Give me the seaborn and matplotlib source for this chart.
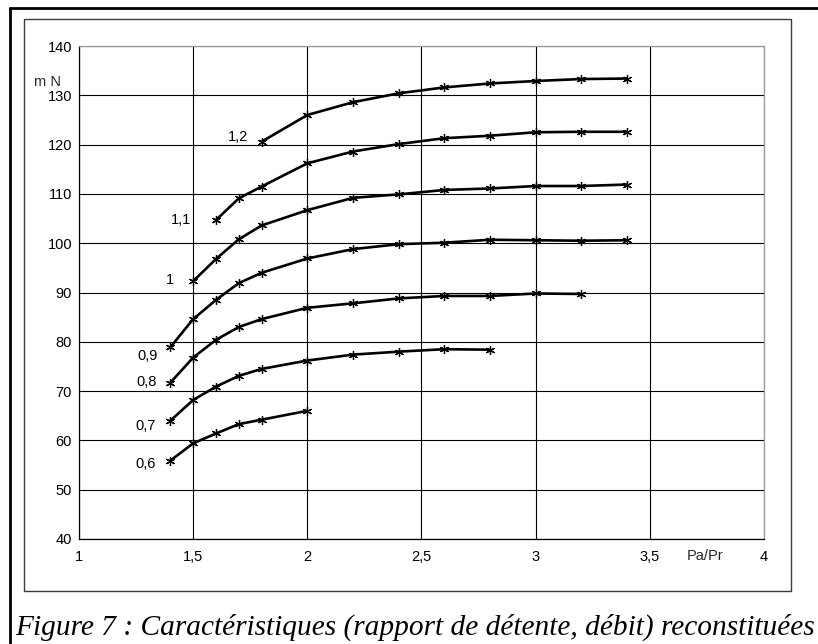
import matplotlib
matplotlib.use("Agg")
import matplotlib.pyplot as plt
from matplotlib.lines import Line2D
from matplotlib.patches import Rectangle
import seaborn as sns
import pandas as pd

# Expansion ratio Pa/Pr and mass flow (m N) for each characteristic
ratio_06 = [1.4, 1.5, 1.6, 1.7, 1.8, 2.0]
flow_06 = [55.9, 59.4, 61.4, 63.3, 64.2, 66.0]

ratio_07 = [1.4, 1.5, 1.6, 1.7, 1.8, 2.0, 2.2, 2.4, 2.6, 2.8]
flow_07 = [64.0, 68.2, 70.9, 73.1, 74.5, 76.2, 77.4, 78.0, 78.5, 78.4]

ratio_08 = [1.4, 1.5, 1.6, 1.7, 1.8, 2.0, 2.2, 2.4, 2.6, 2.8, 3.0, 3.2]
flow_08 = [71.7, 76.8, 80.4, 83.0, 84.6, 86.9, 87.8, 88.8, 89.3, 89.3, 89.8, 89.7]

ratio_09 = [1.4, 1.5, 1.6, 1.7, 1.8, 2.0, 2.2, 2.4, 2.6, 2.8, 3.0, 3.2, 3.4]
flow_09 = [78.9, 84.6, 88.5, 91.9, 94.0, 96.9, 98.8, 99.8, 100.1, 100.7, 100.6, 100.5, 100.6]

ratio_10 = [1.5, 1.6, 1.7, 1.8, 2.0, 2.2, 2.4, 2.6, 2.8, 3.0, 3.2, 3.4]
flow_10 = [92.3, 96.8, 100.8, 103.6, 106.7, 109.2, 109.9, 110.8, 111.1, 111.6, 111.6, 111.9]

ratio_11 = [1.6, 1.7, 1.8, 2.0, 2.2, 2.4, 2.6, 2.8, 3.0, 3.2, 3.4]
flow_11 = [104.7, 109.1, 111.5, 116.2, 118.6, 120.1, 121.3, 121.8, 122.5, 122.6, 122.6]

ratio_12 = [1.8, 2.0, 2.2, 2.4, 2.6, 2.8, 3.0, 3.2, 3.4]
flow_12 = [120.6, 126.0, 128.6, 130.4, 131.6, 132.4, 132.9, 133.3, 133.4]

curve_names = ["0,6", "0,7", "0,8", "0,9", "1", "1,1", "1,2"]
curve_ratios = [ratio_06, ratio_07, ratio_08, ratio_09, ratio_10, ratio_11, ratio_12]
curve_flows = [flow_06, flow_07, flow_08, flow_09, flow_10, flow_11, flow_12]

x_ticks = [1, 1.5, 2, 2.5, 3, 3.5, 4]
x_tick_labels = ["1", "1,5", "2", "2,5", "3", "3,5", "4"]
y_ticks = [40, 50, 60, 70, 80, 90, 100, 110, 120, 130, 140]
y_tick_labels = [str(v) for v in y_ticks]

caption = "Figure 7 : Caractéristiques (rapport de détente, débit) reconstituées"

# offsets (pixels) of each curve label's right/centre from the first point
label_offsets = {
    "0,6": (-15, -3), "0,7": (-15, -5), "0,8": (-14, 1), "0,9": (-13, -9),
    "1": (-19, 1), "1,1": (-25, 0), "1,2": (-14, 5),
}

frames = []
for name, xs, ys in zip(curve_names, curve_ratios, curve_flows):
    frames.append(pd.DataFrame({"ratio": xs, "flow": ys, "curve": name}))
data = pd.concat(frames, ignore_index=True)

sns.set_theme(style="white")
plt.rcParams["font.family"] = ["Liberation Sans", "DejaVu Sans"]

W, H = 818, 644
fig = plt.figure(figsize=(W / 100, H / 100), dpi=100)
fig.patch.set_facecolor("white")

ax_left, ax_right, ax_top, ax_bottom = 79, 764, 46, 539
ax = fig.add_axes([ax_left / W, 1 - ax_bottom / H,
                   (ax_right - ax_left) / W, (ax_bottom - ax_top) / H])
ax.set_facecolor("white")

for name in curve_names:
    sub = data[data["curve"] == name]
    sns.lineplot(data=sub, x="ratio", y="flow", ax=ax, color="black",
                 linewidth=1.9, marker=(6, 2, 0), markersize=6.5,
                 markeredgewidth=0.9, markeredgecolor="black",
                 sort=False, legend=False, zorder=3)

ax.set_xlim(1, 4)
ax.set_ylim(40, 140)
ax.set_xticks(x_ticks)
ax.set_xticklabels(x_tick_labels)
ax.set_yticks(y_ticks)
ax.set_yticklabels(y_tick_labels)
ax.set_xlabel("")
ax.set_ylabel("")
ax.grid(True, color="black", linewidth=0.8)
ax.tick_params(axis="both", direction="out", length=3, width=0.8,
               color="black", labelsize=10.5, labelcolor="black")
ax.tick_params(axis="x", pad=5)
ax.tick_params(axis="y", pad=2)
for side in ("left", "bottom"):
    ax.spines[side].set_color("black")
    ax.spines[side].set_linewidth(0.9)
for side in ("top", "right"):
    ax.spines[side].set_color("#9a9a9a")
    ax.spines[side].set_linewidth(0.9)

# curve labels next to the first point of each characteristic
for name, xs, ys in zip(curve_names, curve_ratios, curve_flows):
    dx, dy = label_offsets[name]
    ax.annotate(name, xy=(xs[0], ys[0]), xytext=(dx * 0.72, dy * 0.72),
                textcoords="offset points", ha="right", va="center",
                fontsize=10.5, color="black")

ax.text((47 - ax_left) / (ax_right - ax_left), (ax_bottom - 82) / (ax_bottom - ax_top),
        "m N", transform=ax.transAxes, ha="center", va="center", fontsize=10.5)
ax.text((705 - ax_left) / (ax_right - ax_left), (ax_bottom - 556) / (ax_bottom - ax_top),
        "Pa/Pr", transform=ax.transAxes, ha="center", va="center", fontsize=10.5)

# chart frame and outer border
fig.add_artist(Rectangle((24 / W, 1 - 591 / H), (791 - 24) / W, (591 - 19) / H,
                         transform=fig.transFigure, fill=False,
                         edgecolor="#3a3a3a", linewidth=1.0))
fig.add_artist(Line2D([10 / W, 10 / W], [0, 1 - 8 / H], transform=fig.transFigure,
                      color="black", linewidth=2.0))
fig.add_artist(Line2D([10 / W, 1], [1 - 8 / H, 1 - 8 / H], transform=fig.transFigure,
                      color="black", linewidth=2.0))

fig.text(15 / W, 1 - 627 / H, caption, ha="left", va="center",
         fontsize=21.2, style="italic", family=["Liberation Serif", "DejaVu Serif"],
         color="black")

fig.savefig("out.png", dpi=100, facecolor="white")
